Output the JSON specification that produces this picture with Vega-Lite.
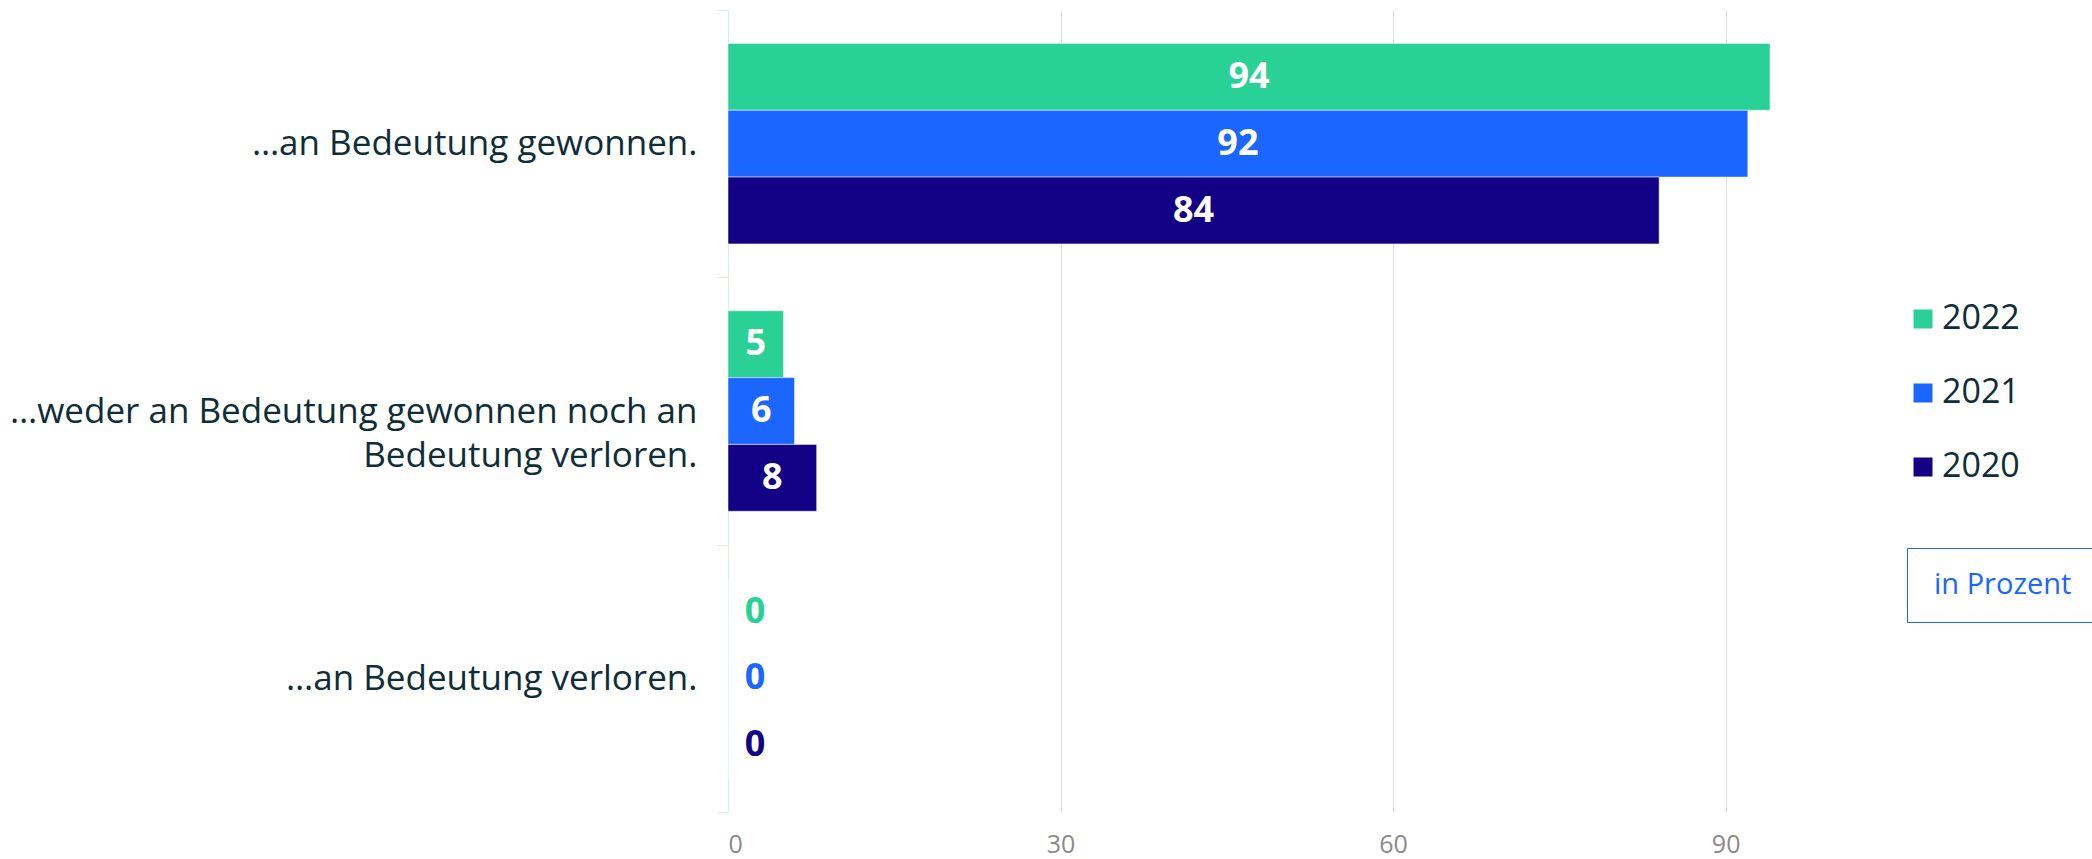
{
  "$schema": "https://vega.github.io/schema/vega-lite/v6.json",
  "width": 1042,
  "height": 802,
  "autosize": {"type": "none"},
  "padding": {"left": 728, "top": 10, "right": 322, "bottom": 47},
  "background": "white",
  "config": {"view": {"stroke": null}, "font": "Open Sans"},
  "data": {
    "values": [
      {"category": "…an Bedeutung gewonnen.", "year": "2022", "value": 94, "unit": "in Prozent"},
      {"category": "…an Bedeutung gewonnen.", "year": "2021", "value": 92, "unit": "in Prozent"},
      {"category": "…an Bedeutung gewonnen.", "year": "2020", "value": 84, "unit": "in Prozent"},
      {"category": "…weder an Bedeutung gewonnen noch an Bedeutung verloren.", "year": "2022", "value": 5, "unit": "in Prozent"},
      {"category": "…weder an Bedeutung gewonnen noch an Bedeutung verloren.", "year": "2021", "value": 6, "unit": "in Prozent"},
      {"category": "…weder an Bedeutung gewonnen noch an Bedeutung verloren.", "year": "2020", "value": 8, "unit": "in Prozent"},
      {"category": "…an Bedeutung verloren.", "year": "2022", "value": 0, "unit": "in Prozent"},
      {"category": "…an Bedeutung verloren.", "year": "2021", "value": 0, "unit": "in Prozent"},
      {"category": "…an Bedeutung verloren.", "year": "2020", "value": 0, "unit": "in Prozent"}
    ]
  },
  "encoding": {
    "y": {
      "field": "category",
      "type": "nominal",
      "sort": null,
      "scale": {"paddingInner": 0, "paddingOuter": 0},
      "axis": {
        "title": null,
        "domainColor": "#d9eedf",
        "tickColor": "#d9eedf",
        "tickSize": 11,
        "tickBand": "extent",
        "labelFontSize": 35,
        "labelColor": "#0f2d37",
        "labelPadding": 20,
        "labelLineHeight": 44,
        "labelLimit": 900,
        "labelExpr": "datum.value == '…weder an Bedeutung gewonnen noch an Bedeutung verloren.' ? ['…weder an Bedeutung gewonnen noch an', 'Bedeutung verloren.'] : datum.value"
      }
    },
    "yOffset": {
      "field": "year",
      "type": "nominal",
      "sort": ["2022", "2021", "2020"],
      "scale": {"paddingInner": 0, "paddingOuter": 0.5}
    }
  },
  "layer": [
    {
      "mark": {"type": "bar", "stroke": "white", "strokeWidth": 1, "strokeOpacity": 0.5},
      "encoding": {
        "x": {
          "field": "value",
          "type": "quantitative",
          "scale": {"domain": [0, 94], "nice": false, "zero": true},
          "axis": {
            "title": null,
            "values": [0, 30, 60, 90],
            "domain": false,
            "ticks": false,
            "grid": true,
            "gridColor": {"condition": {"test": "datum.value === 0", "value": "transparent"}, "value": "#dcdcdc"},
            "labelFontSize": 25,
            "labelColor": "#8a8a8a",
            "labelPadding": 20
          }
        },
        "color": {
          "field": "year",
          "type": "nominal",
          "scale": {"domain": ["2022", "2021", "2020"], "range": ["#2ad196", "#1b66ff", "#140085"]},
          "legend": {
            "title": null,
            "orient": "none",
            "legendX": 1178,
            "legendY": 292,
            "symbolType": "square",
            "symbolSize": 361,
            "symbolStrokeWidth": 0,
            "labelFontSize": 34,
            "labelColor": "#0f2d37",
            "labelOffset": 2,
            "rowPadding": 40,
            "padding": 0
          }
        }
      }
    },
    {
      "transform": [{"filter": "datum.value > 0"}, {"calculate": "datum.value / 2", "as": "labelPos"}],
      "mark": {"type": "text", "color": "white", "fontWeight": "bold", "fontSize": 36, "baseline": "middle", "align": "center"},
      "encoding": {
        "x": {"field": "labelPos", "type": "quantitative"},
        "text": {"field": "value", "type": "quantitative"}
      }
    },
    {
      "transform": [{"filter": "datum.value == 0"}],
      "mark": {"type": "text", "fontWeight": "bold", "fontSize": 36, "baseline": "middle", "align": "center", "dx": 27},
      "encoding": {
        "x": {"field": "value", "type": "quantitative"},
        "fill": {
          "field": "year",
          "type": "nominal",
          "scale": {"domain": ["2022", "2021", "2020"], "range": ["#2ad196", "#1b66ff", "#140085"]},
          "legend": null
        },
        "text": {"field": "value", "type": "quantitative"}
      }
    },
    {
      "mark": {"type": "point", "opacity": 0},
      "encoding": {
        "x": {"field": "value", "type": "quantitative"},
        "shape": {
          "field": "unit",
          "type": "nominal",
          "legend": {
            "title": null,
            "orient": "none",
            "legendX": 1179,
            "legendY": 538,
            "symbolSize": 0,
            "symbolOpacity": 0,
            "labelFontSize": 29,
            "labelColor": "#1b66ff",
            "labelOffset": -24,
            "padding": 22,
            "strokeColor": "#1b66ff"
          }
        }
      }
    }
  ]
}
